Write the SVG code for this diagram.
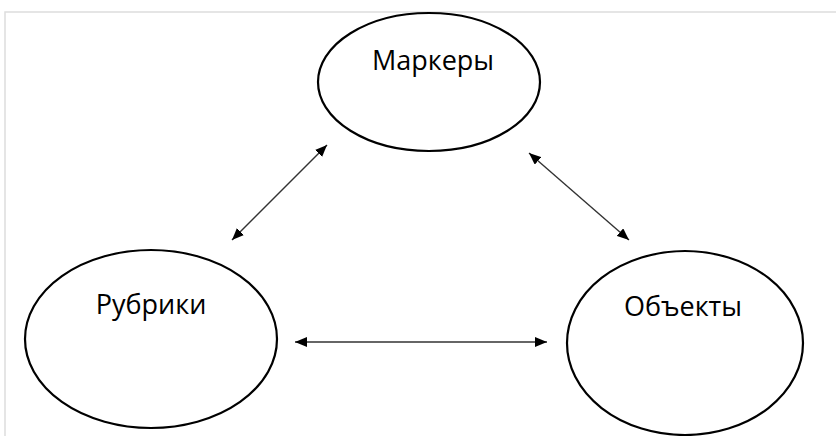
<svg xmlns="http://www.w3.org/2000/svg" width="836" height="436" viewBox="0 0 836 436">
<style>
.node ellipse{fill:#fff;stroke:#000;stroke-width:2.2}
.node text{font-family:"Open Sans","Liberation Sans",sans-serif;font-size:27px;fill:#000;text-anchor:middle}
.conn line{stroke:#333;stroke-width:1.4;marker-start:url(#ah);marker-end:url(#ah)}
</style>
<defs>
<marker id="ah" viewBox="0 0 12 10" refX="12" refY="5" markerWidth="12" markerHeight="10" markerUnits="userSpaceOnUse" orient="auto-start-reverse">
<path d="M0,0 L12,5 L0,10 Z" fill="#000"/>
</marker>
</defs>
<rect width="836" height="436" fill="#fff"/>
<path d="M5,436 V12 H836" fill="none" stroke="#ddd" stroke-width="1.5"/>
<g id="markery" class="node">
<ellipse cx="429" cy="82" rx="111" ry="69"/>
<text x="433" y="70">Маркеры</text>
</g>
<g id="rubriki" class="node">
<ellipse cx="151" cy="339" rx="126" ry="89"/>
<text x="151" y="314">Рубрики</text>
</g>
<g id="obekty" class="node">
<ellipse cx="685" cy="343" rx="118" ry="92"/>
<text x="683" y="316">Объекты</text>
</g>
<g id="connectors" class="conn">
<line x1="232" y1="240" x2="327" y2="145"/>
<line x1="529" y1="153" x2="629" y2="240"/>
<line x1="295" y1="342" x2="547" y2="342"/>
</g>
</svg>
